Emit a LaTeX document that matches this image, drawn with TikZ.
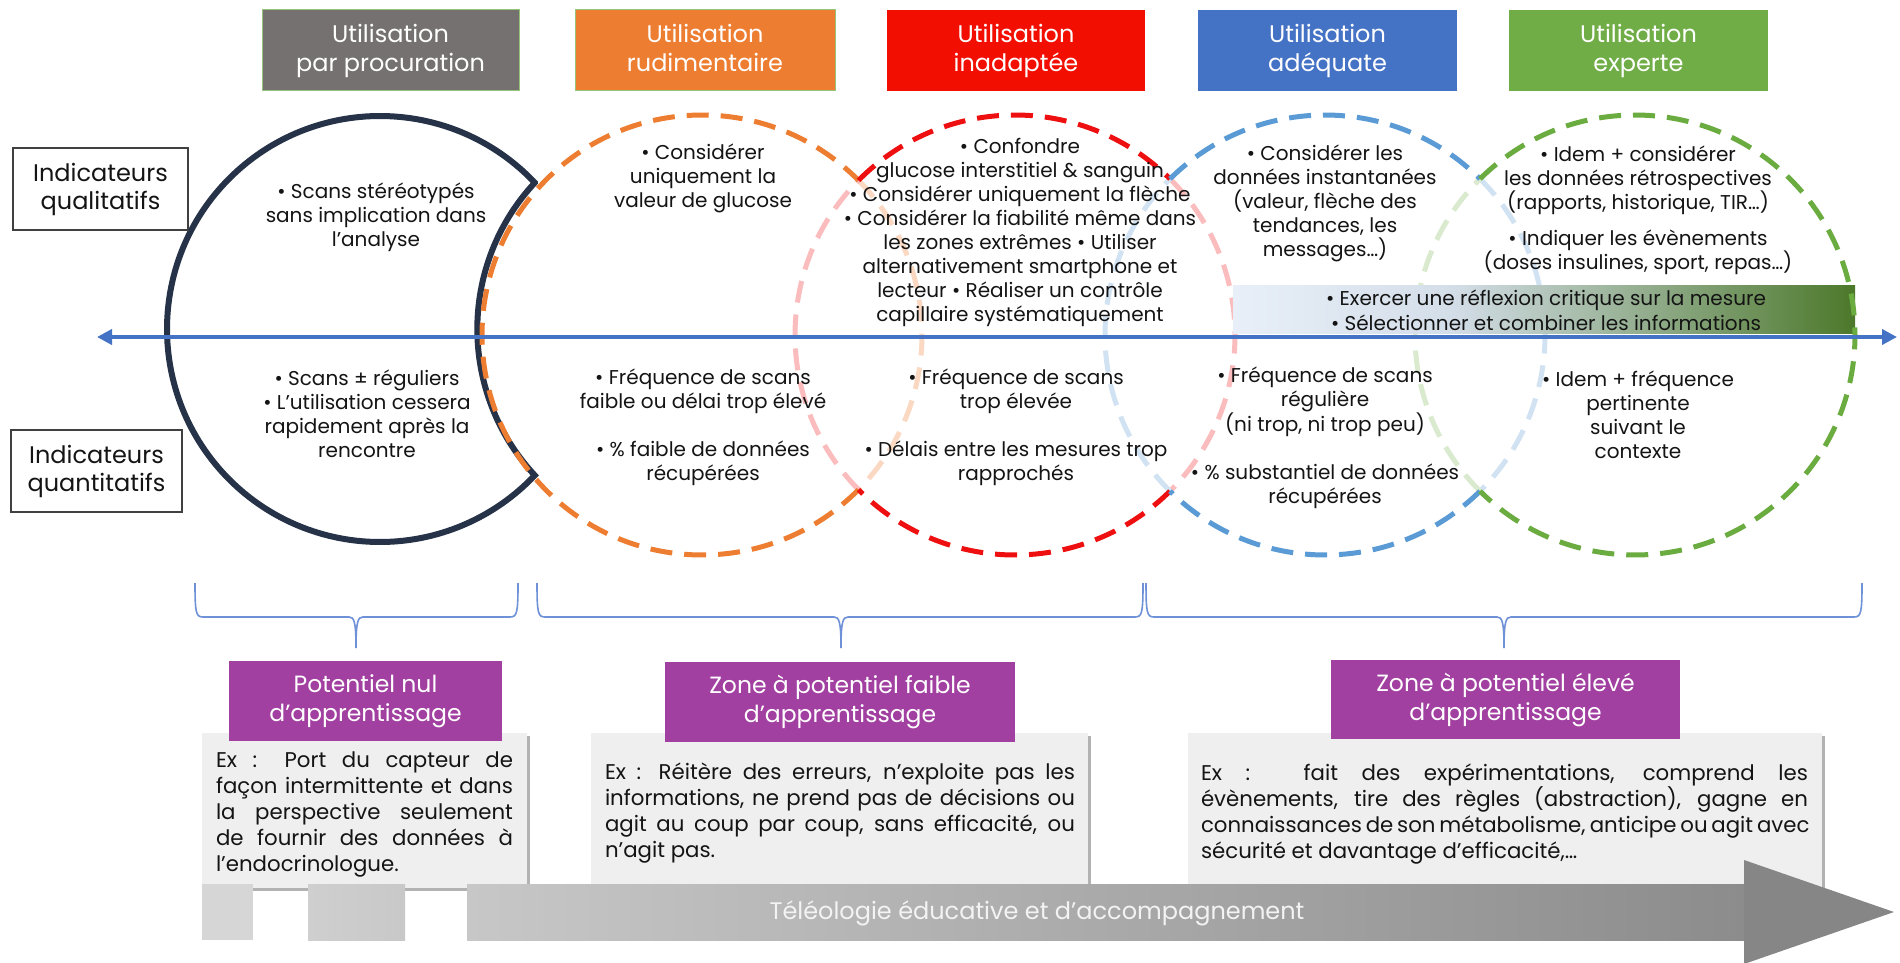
\documentclass[tikz,border=0pt]{standalone}
\usepackage{fontspec}
\setmainfont{Poppins}
\usetikzlibrary{calc,shadows,arrows.meta}

\definecolor{hgray}{RGB}{118,113,113}
\definecolor{horange}{RGB}{237,125,49}
\definecolor{hred}{RGB}{242,14,0}
\definecolor{hblue}{RGB}{68,114,196}
\definecolor{hgreen}{RGB}{112,173,71}
\definecolor{hborder}{RGB}{150,195,120}
\definecolor{cnavy}{RGB}{38,50,72}
\definecolor{corange}{RGB}{237,125,49}
\definecolor{cred}{RGB}{238,16,16}
\definecolor{cblue}{RGB}{91,155,213}
\definecolor{cgreen}{RGB}{107,172,65}
\definecolor{axblue}{RGB}{68,114,196}
\definecolor{brblue}{RGB}{110,145,215}
\definecolor{purp}{RGB}{161,64,160}
\definecolor{exfill}{RGB}{239,239,239}
\definecolor{txt}{RGB}{20,20,20}
\definecolor{barA}{RGB}{232,239,248}
\definecolor{barB}{RGB}{212,222,233}
\definecolor{barC}{RGB}{76,120,42}
\definecolor{arA}{RGB}{214,214,214}
\definecolor{arB}{RGB}{207,207,207}
\definecolor{arB2}{RGB}{200,200,200}
\definecolor{arC}{RGB}{199,199,199}
\definecolor{arD}{RGB}{140,140,140}
\definecolor{arE}{RGB}{134,134,134}
\definecolor{artxt}{RGB}{243,243,243}

\newcommand{\myarc}[5]{\draw[#5] ($(#1)+(#3:#2)$) arc[start angle=#3, end angle=#4, radius=#2];}
\newcommand{\mybrace}[3]{\draw[brc] (#1,583) .. controls (#1,613) and (#1+1,617) .. (#1+8,617) -- (#2-7,617) .. controls (#2-2,617) and (#2,621) .. (#2,648) .. controls (#2,621) and (#2+2,617) .. (#2+7,617) -- (#3-8,617) .. controls (#3-1,617) and (#3,613) .. (#3,583);}

\begin{document}
\begin{tikzpicture}[x=1pt,y=-1pt,
  hdr/.style={rectangle, minimum width=257pt, minimum height=81pt, inner sep=0pt, text=white, align=center, font=\fontsize{24}{29}\selectfont},
  ind/.style={rectangle, draw=black!75, line width=1.2pt, fill=white, align=center, inner sep=0pt, font=\fontsize{24}{28}\selectfont, text=txt},
  ctext/.style={align=center, inner sep=0pt, text=txt, font=\fontsize{20}{24}\selectfont},
  exbox/.style={rectangle, fill=exfill, inner sep=0pt, drop shadow={shadow xshift=3pt, shadow yshift=-3pt, fill=black, opacity=0.3}},
  extext/.style={align=left, inner sep=0pt, text=txt, font=\fontsize{21.3}{26}\selectfont},
  pbox/.style={rectangle, fill=purp, text=white, align=center, inner sep=0pt, font=\fontsize{23.5}{29}\selectfont},
  brc/.style={draw=brblue, line width=1.6pt},
  dsh/.style={line width=5pt, dash pattern=on 22pt off 12pt},
  navyline/.style={draw=cnavy, line width=6pt},
  axline/.style={draw=axblue, line width=4.5pt, {Triangle[length=15pt,width=15pt]}-{Triangle[length=15pt,width=15pt]}},
]
\useasboundingbox (0,0) rectangle (1900,963);
\fill[white] (0,0) rectangle (1900,963);

% ---- circle centres
\coordinate (cN) at (380,329);
\coordinate (cO) at (702,335);
\coordinate (cR) at (1015,335);
\coordinate (cB) at (1325,335);
\coordinate (cG) at (1635,335);

% ---- example boxes
\node[exbox, minimum width=325pt, minimum height=155pt] (ex1) at (364.5,810.5) {};
\node[exbox, minimum width=497pt, minimum height=155pt] (ex2) at (839.5,810.5) {};
\node[exbox, minimum width=634pt, minimum height=155pt] (ex3) at (1505,810.5) {};

% ---- braces
\mybrace{195}{356}{518}
\mybrace{537}{841}{1143}
\mybrace{1146}{1504}{1862}

% ---- purple boxes
\node[pbox, minimum width=273pt, minimum height=80pt] (p1) at (365.5,701) {Potentiel nul\\d’apprentissage};
\node[pbox, minimum width=350pt, minimum height=80pt] (p2) at (840,702) {Zone à potentiel faible\\d’apprentissage};
\node[pbox, minimum width=349pt, minimum height=79pt] (p3) at (1505.5,699.5) {Zone à potentiel élevé\\d’apprentissage};

% ---- big grey arrow
\fill[arA] (202,884) rectangle (253,940);
\shade[left color=arB, right color=arB2] (308,884) rectangle (405,940);
\shade[left color=arC, right color=arD] (467,884) rectangle (1745,940);
\fill[arE] (1744,860) -- (1894,912) -- (1744,964) -- cycle;
\node[font=\fontsize{24}{29}\selectfont, text=artxt, inner sep=0pt] (teleo) at (1037,913) {Téléologie éducative et d’accompagnement};

% ---- example texts
\node[extext] (ext1) at (364.5,814) {\makebox[297pt][s]{Ex : Port du capteur de}\\\makebox[297pt][s]{façon intermittente et dans}\\\makebox[297pt][s]{la perspective seulement}\\\makebox[297pt][s]{de fournir des données à}\\l’endocrinologue.};
\node[extext] (ext2) at (840,813) {\makebox[470pt][s]{Ex : Réitère des erreurs, n’exploite pas les}\\\makebox[470pt][s]{informations, ne prend pas de décisions ou}\\\makebox[470pt][s]{agit au coup par coup, sans efficacité, ou}\\n’agit pas.};
\node[extext] (ext3) at (1504.5,814.5) {\makebox[607pt][s]{Ex :\hspace{10pt} fait des expérimentations, comprend les}\\\makebox[607pt][s]{évènements, tire des règles (abstraction), gagne en}\\\makebox[607pt][s]{connaissances de son métabolisme, anticipe ou agit avec}\\sécurité et davantage d’efficacité,…};

% ---- faint arcs (inside overlaps)
\myarc{cO}{220}{-44.65}{44.65}{dsh, draw=corange!30}
\myarc{cR}{220}{135.35}{224.65}{dsh, draw=cred!28}
\myarc{cR}{220}{-45.2}{45.2}{dsh, draw=cred!28}
\myarc{cB}{220}{134.8}{225.2}{dsh, draw=cblue!28}
\myarc{cB}{220}{-45.2}{45.2}{dsh, draw=cblue!28}
\myarc{cG}{220}{134.8}{225.2}{dsh, draw=cgreen!25}

% ---- gradient bar
\shade[left color=barA, right color=barB] (1233,285) rectangle (1451,333);
\shade[left color=barB, right color=barC] (1450,285) rectangle (1855,333);
\node[ctext, font=\fontsize{20}{25}\selectfont] (bartxt) at (1546,310.5) {• Exercer une réflexion critique sur la mesure\\• Sélectionner et combiner les informations};

% ---- navy crescent
\draw[navyline] ($(cN)+(-43.4:213)$) arc[start angle=-43.4, end angle=-316.6, radius=213] arc[start angle=137.12, end angle=222.88, radius=215] -- cycle;

% ---- bold arcs
\myarc{cO}{220}{44.65}{315.35}{dsh, draw=corange}
\myarc{cR}{220}{224.65}{314.8}{dsh, draw=cred}
\myarc{cR}{220}{45.2}{135.35}{dsh, draw=cred}
\myarc{cB}{220}{225.2}{314.8}{dsh, draw=cblue}
\myarc{cB}{220}{45.2}{134.8}{dsh, draw=cblue}
\myarc{cG}{220}{225.2}{494.8}{dsh, draw=cgreen}

% ---- circle texts
\node[ctext] (nU) at (376,217) {• Scans stéréotypés\\sans implication dans\\l’analyse};
\node[ctext] (nL) at (367,414) {• Scans ± réguliers\\• L’utilisation cessera\\rapidement après la\\rencontre};
\node[ctext] (oU) at (703,178) {• Considérer\\uniquement la\\valeur de glucose};
\node[ctext] (oL) at (703,427) {• Fréquence de scans\\faible ou délai trop élevé\\[24pt]• \% faible de données\\récupérées};
\node[ctext] (rU) at (1020,232.5) {• Confondre\\glucose interstitiel \& sanguin\\• Considérer uniquement la flèche\\• Considérer la fiabilité même dans\\les zones extrêmes • Utiliser\\alternativement smartphone et\\lecteur • Réaliser un contrôle\\capillaire systématiquement};
\node[ctext] (rL) at (1016,427) {• Fréquence de scans\\trop élevée\\[24pt]• Délais entre les mesures trop\\rapprochés};
\node[ctext] (bU) at (1325,203.5) {• Considérer les\\données instantanées\\(valeur, flèche des\\tendances, les\\messages…)};
\node[ctext] (bL) at (1325,437.5) {• Fréquence de scans\\régulière\\(ni trop, ni trop peu)\\[24pt]• \% substantiel de données\\récupérées};
\node[ctext] (gU) at (1638,210) {• Idem + considérer\\les données rétrospectives\\(rapports, historique, TIR…)\\[12pt]• Indiquer les évènements\\(doses insulines, sport, repas…)};
\node[ctext] (gL) at (1638,415) {• Idem + fréquence\\pertinente\\suivant le\\contexte};

% ---- horizontal axis
\coordinate (axL) at (97,337);
\coordinate (axR) at (1897,337);
\draw[axline] (axL) -- (axR);

% ---- indicator boxes
\node[ind, minimum width=175pt, minimum height=82pt] (iqual) at (100.5,189) {Indicateurs\\qualitatifs};
\node[ind, minimum width=171pt, minimum height=82pt] (iquant) at (96.5,471) {Indicateurs\\quantitatifs};

% ---- header boxes
\node[hdr, fill=hgray, draw=hborder, line width=1pt] (h1) at (390.5,50.5) {Utilisation\\par procuration};
\node[hdr, fill=horange, draw=hborder, line width=1pt, minimum width=260pt] (h2) at (705,50.5) {Utilisation\\rudimentaire\vphantom{p}};
\node[hdr, fill=hred, minimum width=258pt] (h3) at (1016,50.5) {Utilisation\\inadaptée};
\node[hdr, fill=hblue, minimum width=259pt] (h4) at (1327.5,50.5) {Utilisation\\adéquate};
\node[hdr, fill=hgreen, minimum width=259pt] (h5) at (1638.5,50.5) {Utilisation\\experte};
\end{tikzpicture}
\end{document}
